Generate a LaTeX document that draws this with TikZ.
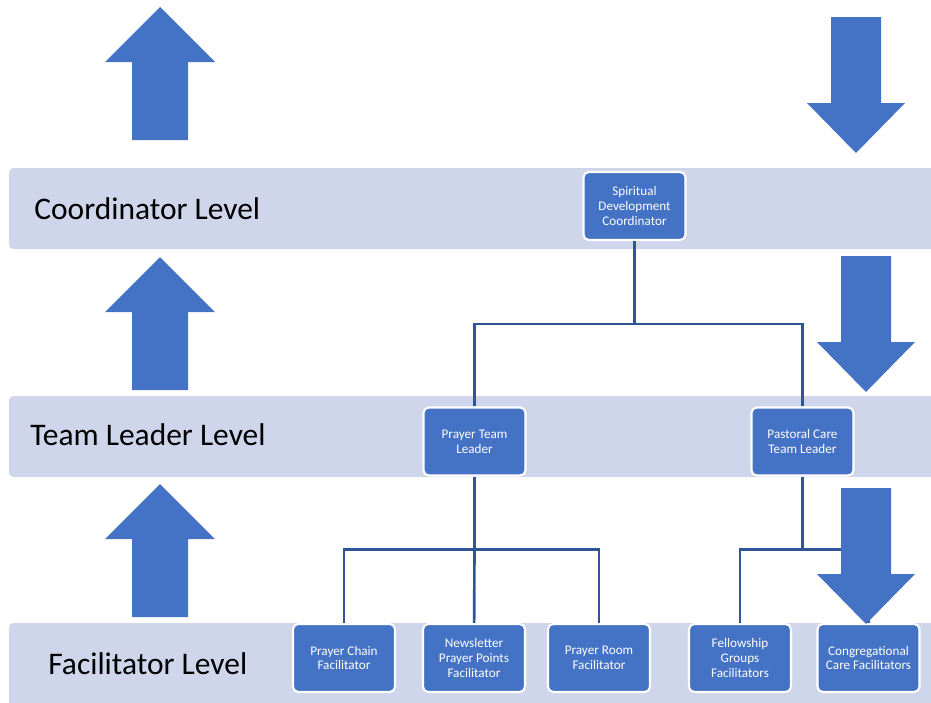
\documentclass[tikz,border=0pt]{standalone}
\usepackage{fontspec}
\setmainfont{Carlito}
\usepackage{tikz}

\definecolor{bandlav}{RGB}{207,213,234}
\definecolor{boxblue}{RGB}{68,114,196}
\definecolor{linkblue}{RGB}{47,85,151}

\tikzset{
  band/.style={fill=bandlav, rounded corners=2.5pt},
  levellabel/.style={anchor=base west, inner sep=0pt, font=\fontsize{17.9}{20}\selectfont},
  box/.style={draw=white, line width=1.2pt, fill=boxblue, rounded corners=3pt, text=white,
    align=center, minimum width=2.04cm, minimum height=1.36cm, inner sep=1pt,
    font=\fontsize{7.5}{8.5}\selectfont},
  link/.style={draw=linkblue, line width=1.5pt},
  bigarrow/.style={fill=boxblue}
}

\begin{document}
\begin{tikzpicture}[x=0.02cm, y=-0.02cm]
\useasboundingbox (0,0) rectangle (931,703);
\clip (0,0) rectangle (931,703);

\fill[band] (9,168) rectangle (945,249);
\fill[band] (9,396) rectangle (945,477);
\fill[band] (9,623) rectangle (945,712);

\node[levellabel] (lvc) at (34,219) {Coordinator Level};
\node[levellabel] (lvt) at (30,445) {Team Leader Level};
\node[levellabel] (lvf) at (48,674) {Facilitator Level};

\node[box] (sdc) at (634.5,206) {Spiritual\\Development\\Coordinator};
\node[box] (ptl) at (474.5,441.5) {Prayer Team\\Leader};
\node[box] (pct) at (802.5,441.5) {Pastoral Care\\Team Leader};
\node[box] (pcf) at (344,658) {Prayer Chain\\Facilitator};
\node[box] (nlf) at (474,658) {Newsletter\\Prayer Points\\Facilitator};
\node[box] (prf) at (599,658) {Prayer Room\\Facilitator};
\node[box] (fgf) at (740,658) {Fellowship\\Groups\\Facilitators};
\node[box] (ccf) at (868.5,658) {Congregational\\Care Facilitators};

\path (sdc.south) ++(0,83) coordinate (j1);
\path (ptl.south) ++(0,73) coordinate (j2);
\path (pct.south) ++(0,73) coordinate (j3);

\draw[link] (sdc) -- (j1);
\draw[link] (j1) -| (ptl);
\draw[link] (j1) -| (pct);
\draw[link] (ptl) -- (j2);
\draw[link] (j2) -| (pcf);
\draw[link] (j2) -- (nlf);
\draw[link] (j2) -| (prf);
\draw[link] (pct) -- (j3);
\draw[link] (j3) -| (fgf);
\draw[link] (j3) -| (ccf);

\foreach \t in {7,257,484}
  \fill[bigarrow] (160,\t) -- (215,{\t+55}) -- (188,{\t+55}) -- (188,{\t+133})
    -- (132,{\t+133}) -- (132,{\t+55}) -- (105,{\t+55}) -- cycle;

\foreach \c/\t in {856/17,866/256,866/488}
  \fill[bigarrow] ({\c-25},\t) -- ({\c+25},\t) -- ({\c+25},{\t+86}) -- ({\c+49},{\t+86})
    -- (\c,{\t+136}) -- ({\c-49},{\t+86}) -- ({\c-25},{\t+86}) -- cycle;

\end{tikzpicture}
\end{document}
